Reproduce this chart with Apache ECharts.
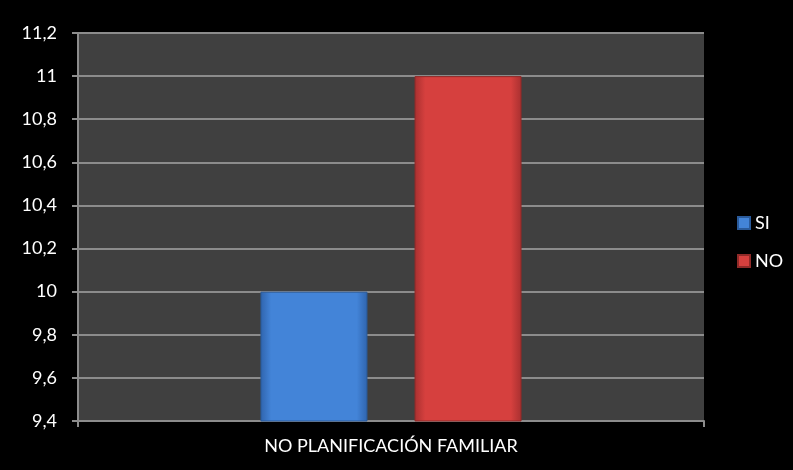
<!DOCTYPE html>
<html><head><meta charset="utf-8">
<script src="https://cdn.jsdelivr.net/npm/echarts@6/dist/echarts.min.js"></script>
<style>html,body{margin:0;padding:0;background:#000}#c{width:793px;height:470px}</style>
</head><body><div id="c"></div>
<script>
const categories = ['NO PLANIFICACIÓN FAMILIAR'];
const seriesNames = ['SI', 'NO'];
const siValues = [10];
const noValues = [11];

const chart = echarts.init(document.getElementById('c'));
const font = 'Lato, "Open Sans", sans-serif';
function grad(top, bottom) {
  return new echarts.graphic.LinearGradient(0, 0, 1, 0, [
    {offset: 0, color: bottom}, {offset: 0.1, color: top}, {offset: 0.9, color: top}, {offset: 1, color: bottom}
  ]);
}
chart.setOption({
  backgroundColor: '#000',
  animation: false,
  grid: {left: 78, right: 89, top: 33, bottom: 49, show: true, backgroundColor: '#404040', borderWidth: 0},
  legend: {
    orient: 'vertical', left: 732, top: 207, itemGap: 16, itemWidth: 12, itemHeight: 12,
    icon: 'rect', data: seriesNames,
    textStyle: {color: '#fff', fontSize: 18, fontFamily: font, lineHeight: 22}
  },
  xAxis: {
    type: 'category', data: categories,
    axisLine: {lineStyle: {color: '#8c8c8c', width: 2}},
    axisTick: {show: true, length: 6, lineStyle: {color: '#8c8c8c', width: 2}},
    axisLabel: {color: '#fff', fontSize: 18, fontFamily: font, margin: 16}
  },
  yAxis: {
    type: 'value', min: 9.4, max: 11.2, interval: 0.2,
    axisLine: {show: true, lineStyle: {color: '#8c8c8c', width: 2}},
    axisTick: {show: true, length: 6, lineStyle: {color: '#8c8c8c', width: 2}},
    splitLine: {lineStyle: {color: '#8c8c8c', width: 2}},
    axisLabel: {color: '#fff', fontSize: 18, fontFamily: font, margin: 21,
      formatter: v => String(parseFloat(v.toFixed(1))).replace('.', ',')}
  },
  series: [
    {name: seriesNames[0], type: 'bar', data: siValues, barWidth: 107, barGap: '44%',
      itemStyle: {color: grad('#4384d8', '#2f64ad'), borderColor: '#2a5a9a', borderWidth: 1}},
    {name: seriesNames[1], type: 'bar', data: noValues, barWidth: 107,
      itemStyle: {color: grad('#d6403e', '#a83030'), borderColor: '#8f2a28', borderWidth: 1}}
  ]
});
</script></body></html>
